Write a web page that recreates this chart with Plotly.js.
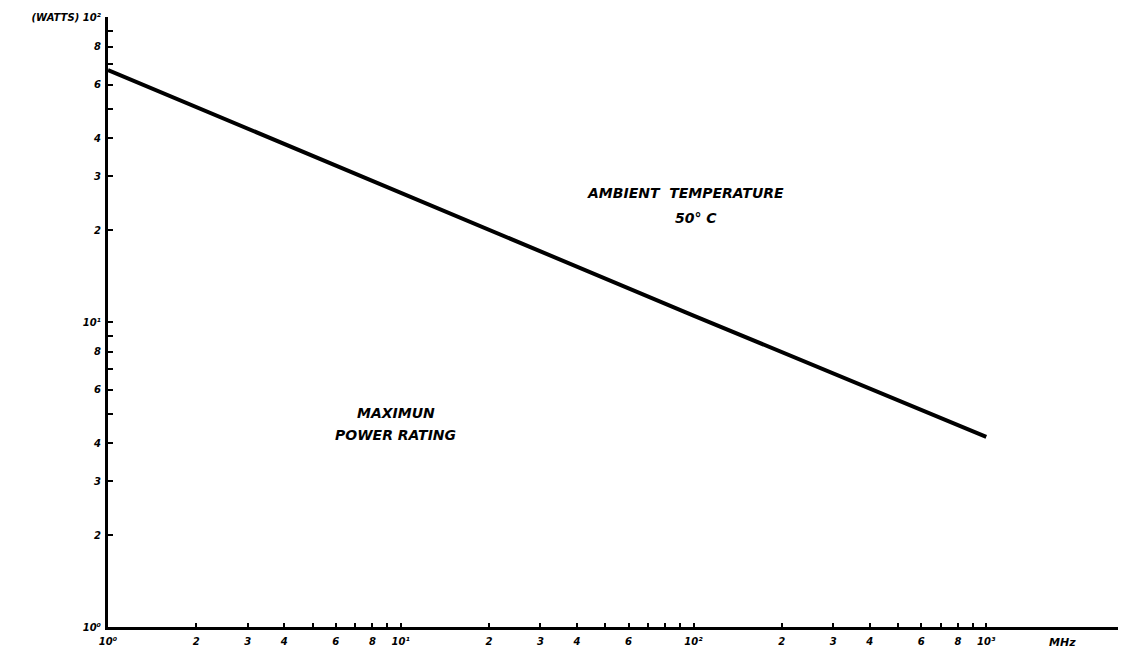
<!DOCTYPE html>
<html>
<head>
<meta charset="utf-8">
<script src="https://cdn.plot.ly/plotly-3.0.1.min.js"></script>
<style>html,body{margin:0;padding:0;background:#fff;}#chart{width:1130px;height:653px;}</style>
</head>
<body>
<div id="chart"></div>
<script>
// Data (log-log straight line)
var freqMHz = [1, 10, 100, 1000];
var powerWatts = [67, 26.5, 10.5, 4.2];

// Labelled tick values / labels
var xTickVals = [1,2,3,4,6,8,10,20,30,40,60,100,200,300,400,600,800,1000];
var xTickText = ['10⁰','2','3','4','6','8','10¹','2','3','4','6','10²','2','3','4','6','8','10³'];
// Unlabelled tick marks
var xMinorVals = [5,7,9,50,70,80,90,500,700,900];
var yTickVals = [1,2,3,4,6,8,10,20,30,40,60,80,100];
var yTickText = ['10⁰','2','3','4','6','8','10¹','2','3','4','6','8','(WATTS) 10²'];
var yMinorVals = [5,7,9,50,70,90];

var labelFont = {family: 'DejaVu Sans', size: 10, color: '#000', weight: 'bold', style: 'italic'};
var noteFont = {family: 'DejaVu Sans', size: 14, color: '#000', weight: 'bold', style: 'italic'};

var trace = {
  x: freqMHz, y: powerWatts, type: 'scatter', mode: 'lines',
  line: {color: '#000', width: 4}, hoverinfo: 'skip', showlegend: false
};

var layout = {
  width: 1130, height: 653,
  margin: {l: 108, r: 12, t: 17, b: 26},
  paper_bgcolor: '#fff', plot_bgcolor: '#fff',
  showlegend: false,
  xaxis: {
    type: 'log', range: [0, 3.45], showgrid: false, zeroline: false,
    showline: true, linecolor: '#000', linewidth: 3,
    ticks: 'inside', ticklen: 4, tickwidth: 2, tickcolor: '#000',
    tickmode: 'array', tickvals: xTickVals, ticktext: xTickText,
    tickfont: labelFont, ticklabelstandoff: 3,
    minor: {tickmode: 'array', tickvals: xMinorVals, ticks: 'inside', ticklen: 4, tickwidth: 2, tickcolor: '#000', showgrid: false}
  },
  yaxis: {
    type: 'log', range: [0, 2], showgrid: false, zeroline: false,
    showline: true, linecolor: '#000', linewidth: 3,
    ticks: 'inside', ticklen: 5, tickwidth: 2, tickcolor: '#000',
    tickmode: 'array', tickvals: yTickVals, ticktext: yTickText,
    tickfont: labelFont, ticklabelstandoff: 2,
    minor: {tickmode: 'array', tickvals: yMinorVals, ticks: 'inside', ticklen: 5, tickwidth: 2, tickcolor: '#000', showgrid: false}
  },
  annotations: [
    {xref: 'paper', yref: 'paper', x: 0.572, y: 0.711, xanchor: 'center', yanchor: 'middle', text: 'AMBIENT&nbsp;&nbsp;TEMPERATURE', showarrow: false, font: noteFont},
    {xref: 'paper', yref: 'paper', x: 0.582, y: 0.670, xanchor: 'center', yanchor: 'middle', text: '50° C', showarrow: false, font: noteFont},
    {xref: 'paper', yref: 'paper', x: 0.285, y: 0.351, xanchor: 'center', yanchor: 'middle', text: 'MAXIMUN', showarrow: false, font: noteFont},
    {xref: 'paper', yref: 'paper', x: 0.285, y: 0.315, xanchor: 'center', yanchor: 'middle', text: 'POWER RATING', showarrow: false, font: noteFont},
    {xref: 'paper', yref: 'paper', x: 0.945, y: -0.026, xanchor: 'center', yanchor: 'middle', text: 'MHz', showarrow: false, font: {family: 'DejaVu Sans', size: 11, color: '#000', weight: 'bold', style: 'italic'}}
  ]
};

Plotly.newPlot('chart', [trace], layout, {staticPlot: true, displayModeBar: false});
</script>
</body>
</html>
